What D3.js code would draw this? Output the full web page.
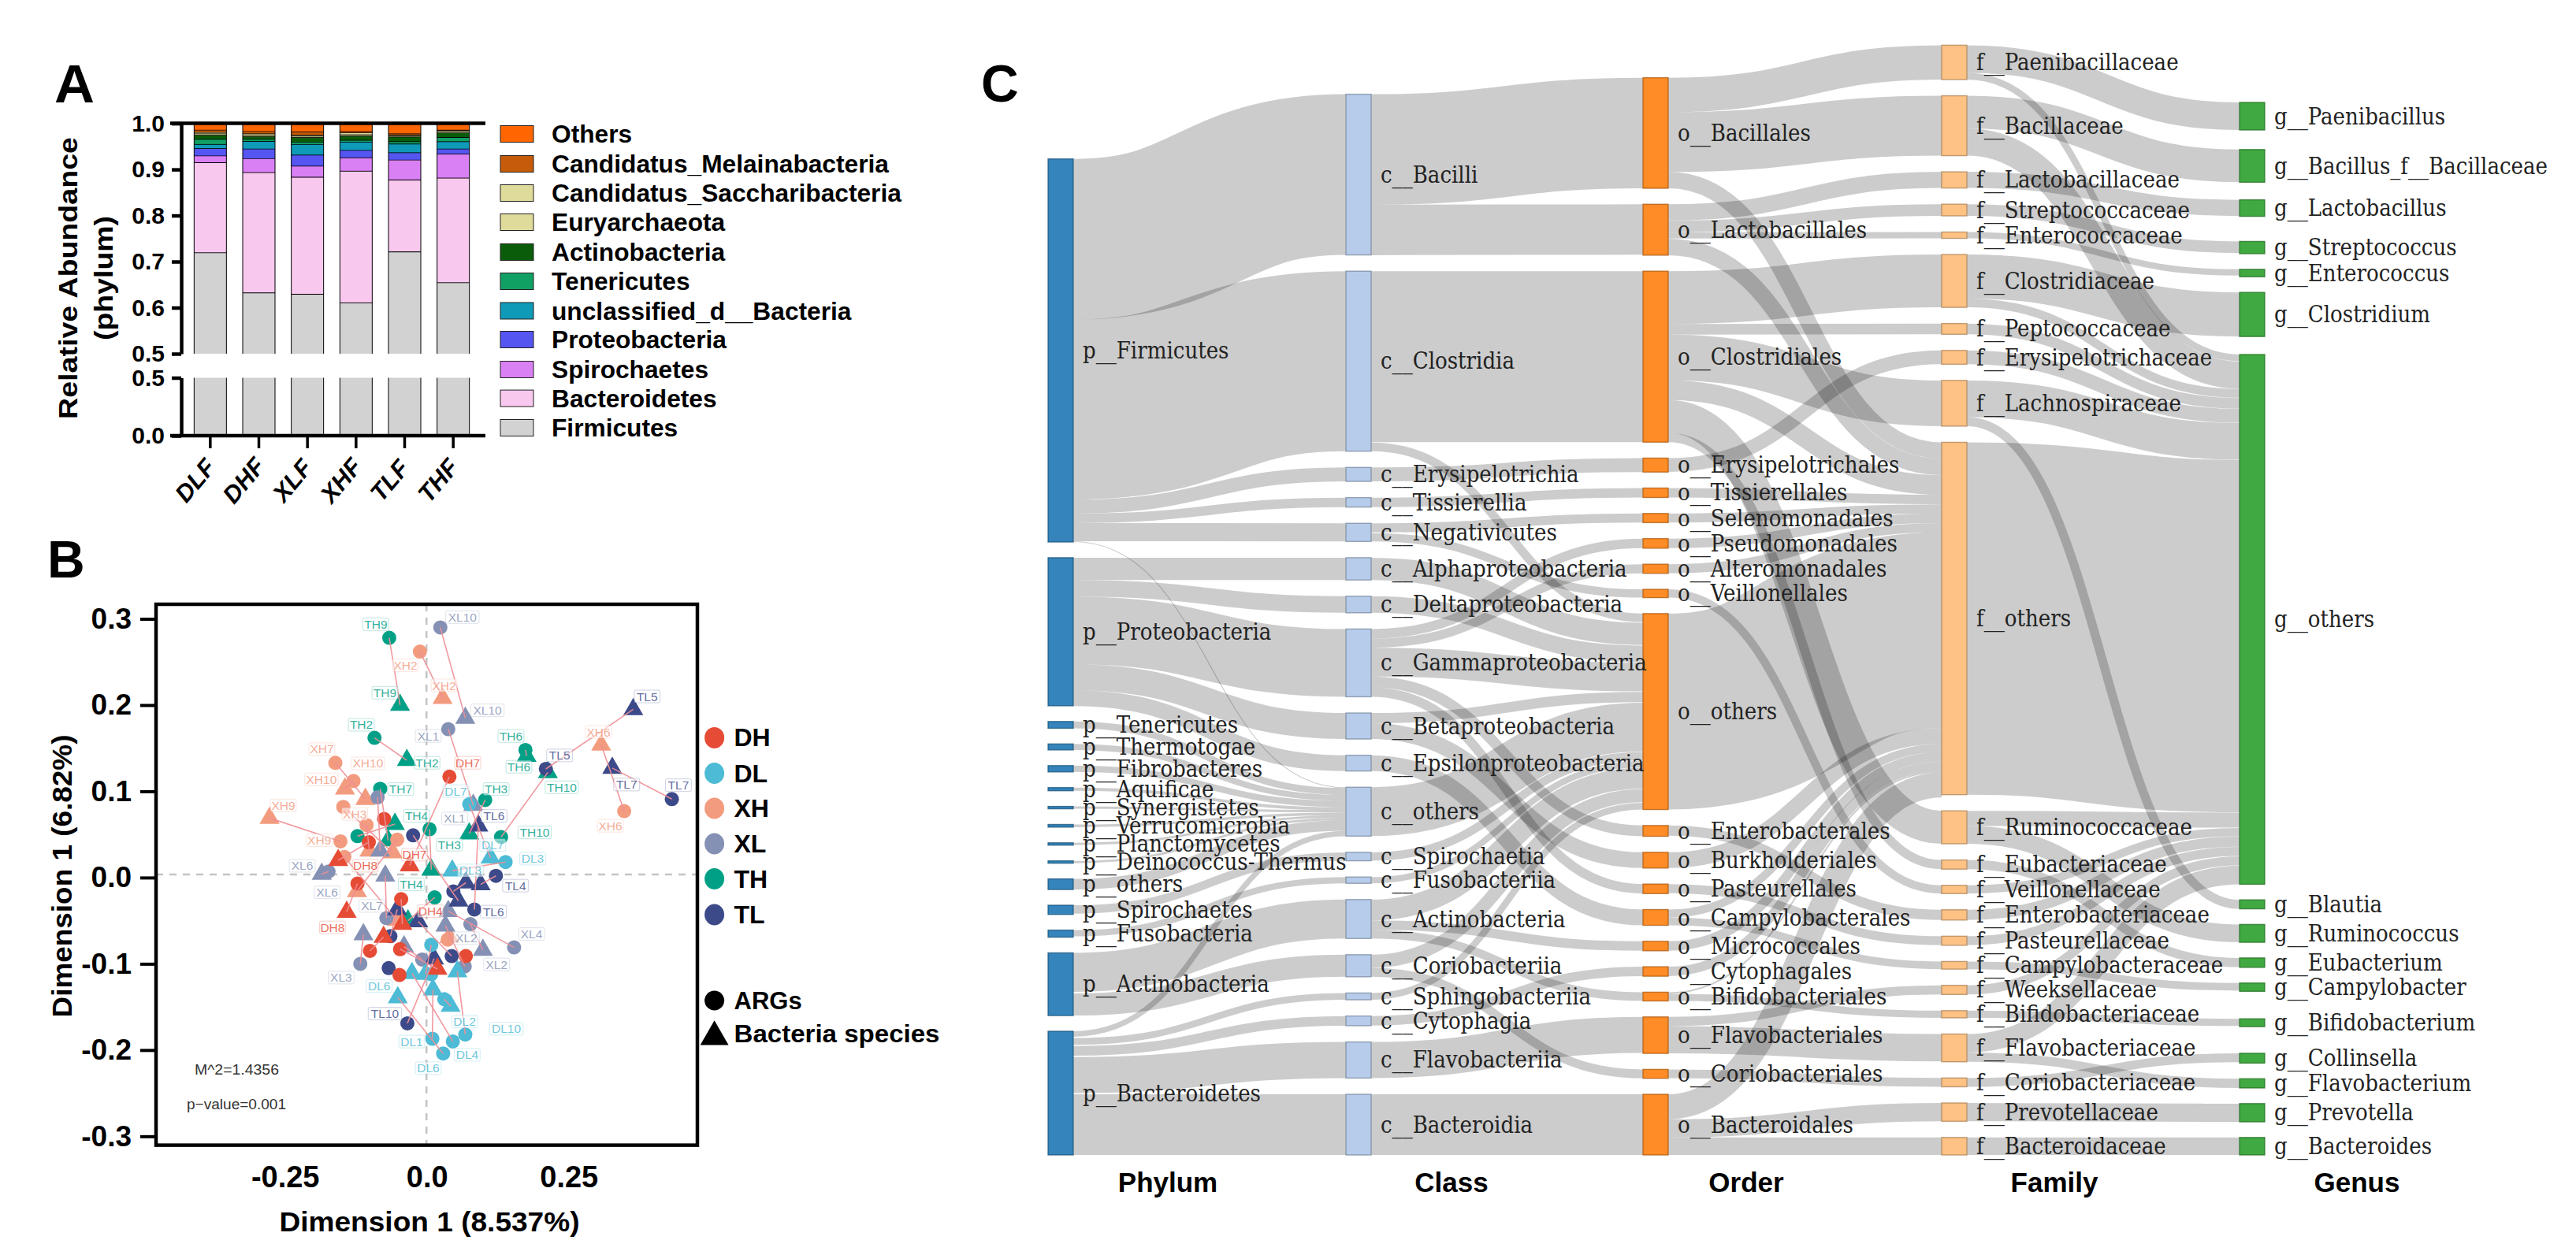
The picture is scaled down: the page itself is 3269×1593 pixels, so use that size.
<!DOCTYPE html>
<html><head><meta charset="utf-8">
<script src="https://cdn.jsdelivr.net/npm/d3@7"></script>
<style>
html,body{margin:0;padding:0;background:#fff}
svg{display:block}
text{font-family:"Liberation Sans",Arial,sans-serif}
.sk{font-family:"DejaVu Serif Condensed","DejaVu Serif",serif}
</style></head><body>
<svg id="c" width="3269" height="1593"></svg>
<script>
// ---------- Panel A data ----------
const barSamples=["DLF","DHF","XLF","XHF","TLF","THF"];
const phylaNames=["Firmicutes","Bacteroidetes","Spirochaetes","Proteobacteria","unclassified_d__Bacteria","Tenericutes","Actinobacteria","Euryarchaeota","Candidatus_Saccharibacteria","Candidatus_Melainabacteria","Others"];
const phylaColors=["#d2d2d2","#f9c8ef","#da80f5","#5555f2","#0f9ab8","#11a064","#0a5c0a","#dedb9b","#dedb9b","#c65b0a","#ff6600"];
const firmicutes=[.72,.633,.63,.611,.722,.655];
const bacteroidetes=[.1955,.261,.254,.286,.156,.227];
const spirochaetes=[.0145,.03,.024,.029,.043,.052];
const proteobacteria=[.016,.021,.024,.016,.016,.011];
const unclassifiedBacteria=[.009,.0165,.023,.018,.019,.016];
const tenericutes=[.011,.0045,.005,.004,.005,.009];
const actinobacteria=[.009,.006,.01,.009,.01,.01];
const euryarchaeota=[.003,.003,.003,.003,.002,.003];
const saccharibacteria=[.003,.003,.002,.004,.002,.002];
const melainabacteria=[.005,.005,.007,.003,.003,.001];
const otherPhyla=[.014,.017,.018,.017,.022,.014];
const barSeries=[firmicutes,bacteroidetes,spirochaetes,proteobacteria,unclassifiedBacteria,tenericutes,actinobacteria,euryarchaeota,saccharibacteria,melainabacteria,otherPhyla];
const barTicksUpper=[.5,.6,.7,.8,.9,1];
const barTicksLower=[0,.5];

// ---------- Panel B data ----------
const groupNames=["DH","DL","XH","XL","TH","TL"];
const groupColors=["#e64b35","#4dbbd5","#f39b7f","#8491b4","#00a087","#3c4a8a"];
const shapeNames=["ARGs","Bacteria species"];
const sampleNames=["TH9","TH2","TH6","TH7","TH3","TH10","TH4","TH1","TH5",
"XH2","XH7","XH10","XH3","XH9","XH6","XH1","XH4","XH5","XH8",
"XL10","XL1","XL7","XL5","XL6","XL4","XL2","XL3","XL8","XL9",
"TL5","TL7","TL6","TL4","TL10","TL1","TL2","TL3","TL8","TL9",
"DL7","DL3","DL1","DL10","DL4","DL6","DL2","DL5","DL8",
"DH7","DH1","DH2","DH8","DH4","DH5","DH6","DH3","DH9"];
const argX=[-.067,-.093,.173,-.083,.102,.130,.004,-.123,.013,
-.013,-.162,-.130,-.148,-.153,.347,-.107,-.053,-.146,.036,
.023,.037,-.0875,-.072,-.174,.153,.076,-.118,-.009,.066,
.209,.431,.083,.121,-.035,-.025,.046,-.065,.043,-.068,
.074,.138,.009,.067,.045,.028,.030,.007,.007,
.039,-.076,-.103,-.123,-.046,-.101,-.048,.068,-.049];
const argY=[.278,.162,.148,.103,.090,.047,.056,.048,-.023,
.262,.133,.112,.082,.042,.077,.061,.044,.024,-.072,
.290,.172,.093,-.047,.007,-.081,-.054,-.100,-.095,-.103,
.126,.091,-.037,.002,-.169,.049,-.016,-.068,-.091,-.105,
.085,.018,-.187,-.182,-.190,-.204,-.141,-.078,-.112,
.117,.068,.041,-.007,-.025,-.085,-.083,-.091,-.113];
const bacX=[-.048,-.036,.175,-.069,.074,.2125,.007,-.057,-.034,
.027,-.109,-.145,-.061,-.278,.3065,-.102,-.124,-.054,.039,
.067,.081,-.083,-.074,-.186,.037,.098,-.1125,-.041,.032,
.363,.326,.090,.094,.012,.055,.068,-.053,-.016,null,
.1115,.044,.010,.053,-.027,-.052,.041,-.003,null,
-.031,null,-.157,-.142,-.044,-.077,.018,null,null];
const bacY=[.200,.136,.141,.043,.051,.122,.009,.062,-.050,
.208,.091,.103,.029,.069,.154,.031,-.016,-.049,-.069,
.185,.084,.031,.002,.004,-.039,-.084,-.066,-.080,-.056,
.195,.127,.060,-.008,-.094,-.027,-.006,-.037,-.051,null,
.023,.008,-.130,-.109,-.111,-.139,-.149,-.112,null,
.014,null,.020,-.040,-.054,-.069,-.106,null,null];
const pointLabels=["TH9","XL10","XH2","TH9","XH2","XL10","TH2","XL1","TH6","XH7","XH10","TH2","DH7","TH6","XH10","TH7","DL7","TH3","XH9","XH3","TH4","XL1","TL6","XH9","TH3","DL7","TH10","DH7","DL3","XL6","DH8","DL3","XL6","TH4","TL4","XL7","DH4","TL6","DH8","XL4","XL2","XL2","XL3","DL6","TL10","DL2","DL10","DL1","DL4","DL6","TL5","XH6","TL5","TL7","TL7","TH10","XH6"];
const labelX=[-.0907,.062,-.0385,-.0746,.0296,.106,-.1162,.0018,.1476,-.1857,-.1046,-.0004,.0713,.1615,-.1865,-.0468,.0504,.1213,-.2537,-.1278,-.019,.0482,.1176,-.1903,.0389,.1153,.1893,-.0226,.1857,-.2204,-.1093,.076,-.1764,-.0282,.1556,-.0976,.0056,.1167,-.1671,.1838,.069,.1222,-.1518,-.0847,-.0746,.0657,.1393,-.0274,.0704,.0018,.3875,.3018,.2333,.3514,.4426,.2371,.3226];
const labelY=[.2938,.302,.2463,.2143,.2228,.1939,.1772,.1641,.1641,.1489,.1324,.1331,.1331,.1285,.1139,.1026,.1002,.1026,.0837,.0737,.0715,.0685,.0715,.0432,.0381,.0377,.0523,.0265,.0219,.0137,.0137,.0082,-.0171,-.0079,-.0094,-.0329,-.039,-.0395,-.0578,-.0655,-.0703,-.1007,-.116,-.1258,-.1577,-.1669,-.1753,-.1902,-.2055,-.221,.21,.1689,.1416,.1078,.1071,.1047,.06];
const ordTicksY=[.3,.2,.1,0,-.1,-.2,-.3];
const ordTicksX=[-.25,0,.25];

// ---------- Panel C data ----------
const phylumNames=["p__Firmicutes","p__Proteobacteria","p__Tenericutes","p__Thermotogae","p__Fibrobacteres","p__Aquificae","p__Synergistetes","p__Verrucomicrobia","p__Planctomycetes","p__Deinococcus-Thermus","p__others","p__Spirochaetes","p__Fusobacteria","p__Actinobacteria","p__Bacteroidetes"];
const phylumValues=[486.3,188,8.6,7.6,8,4,3,3.4,3,3,13.5,11.7,9,79.6,157];
const classNames=["c__Bacilli","c__Clostridia","c__Erysipelotrichia","c__Tissierellia","c__Negativicutes","c__Alphaproteobacteria","c__Deltaproteobacteria","c__Gammaproteobacteria","c__Betaproteobacteria","c__Epsilonproteobacteria","c__others","c__Spirochaetia","c__Fusobacteriia","c__Actinobacteria","c__Coriobacteriia","c__Sphingobacteriia","c__Cytophagia","c__Flavobacteriia","c__Bacteroidia"];
const classValues=[204,228.5,17.7,12,23,28.3,21,86,33,20,62,10.7,8,49.4,28,8.6,12.3,45.8,77];
const orderNames=["o__Bacillales","o__Lactobacillales","o__Clostridiales","o__Erysipelotrichales","o__Tissierellales","o__Selenomonadales","o__Pseudomonadales","o__Alteromonadales","o__Veillonellales","o__others","o__Enterobacterales","o__Burkholderiales","o__Pasteurellales","o__Campylobacterales","o__Micrococcales","o__Cytophagales","o__Bifidobacteriales","o__Flavobacteriales","o__Coriobacteriales","o__Bacteroidales"];
const orderValues=[140.3,64.6,217,17.7,12,11.6,12.2,11.6,10.5,248.7,13.7,20,12.1,20,12,12,11.1,46.3,11.3,77];
const familyNames=["f__Paenibacillaceae","f__Bacillaceae","f__Lactobacillaceae","f__Streptococcaceae","f__Enterococcaceae","f__Clostridiaceae","f__Peptococcaceae","f__Erysipelotrichaceae","f__Lachnospiraceae","f__others","f__Ruminococcaceae","f__Eubacteriaceae","f__Veillonellaceae","f__Enterobacteriaceae","f__Pasteurellaceae","f__Campylobacteraceae","f__Weeksellaceae","f__Bifidobacteriaceae","f__Flavobacteriaceae","f__Coriobacteriaceae","f__Prevotellaceae","f__Bacteroidaceae"];
const familyValues=[43.6,76,20.5,14.8,8,67,13.6,17.5,58,447.2,41.8,11.6,10.5,13,11.5,9.7,11.6,9.1,35.2,11.2,23.2,22.2];
const genusNames=["g__Paenibacillus","g__Bacillus_f__Bacillaceae","g__Lactobacillus","g__Streptococcus","g__Enterococcus","g__Clostridium","g__others","g__Blautia","g__Ruminococcus","g__Eubacterium","g__Campylobacter","g__Bifidobacterium","g__Collinsella","g__Flavobacterium","g__Prevotella","g__Bacteroides"];
const genusValues=[35,41.5,21,15.6,9.5,56,672.4,11.4,22.7,12,10.6,10,12.5,11.7,23.2,22.2];
const phylumToClass=[["p__Firmicutes","c__Bacilli",204],["p__Firmicutes","c__Clostridia",228.5],["p__Firmicutes","c__Erysipelotrichia",17.7],["p__Firmicutes","c__Tissierellia",12],["p__Firmicutes","c__Negativicutes",23],["p__Firmicutes","c__others",1.1],
["p__Proteobacteria","c__Alphaproteobacteria",28.3],["p__Proteobacteria","c__Deltaproteobacteria",21],["p__Proteobacteria","c__Gammaproteobacteria",86],["p__Proteobacteria","c__Betaproteobacteria",33],["p__Proteobacteria","c__Epsilonproteobacteria",20],
["p__Tenericutes","c__others",8.6],["p__Thermotogae","c__others",7.6],["p__Fibrobacteres","c__others",8],["p__Aquificae","c__others",4],["p__Synergistetes","c__others",3],["p__Verrucomicrobia","c__others",3.4],["p__Planctomycetes","c__others",3],["p__Deinococcus-Thermus","c__others",3],["p__others","c__others",13.5],
["p__Spirochaetes","c__Spirochaetia",10.7],["p__Fusobacteria","c__Fusobacteriia",8],["p__Actinobacteria","c__Actinobacteria",49.4],["p__Actinobacteria","c__Coriobacteriia",28],
["p__Bacteroidetes","c__others",7],["p__Bacteroidetes","c__Sphingobacteriia",8.6],["p__Bacteroidetes","c__Cytophagia",12.3],["p__Bacteroidetes","c__Flavobacteriia",45.8],["p__Bacteroidetes","c__Bacteroidia",77]];
const classToOrder=[["c__Bacilli","o__Bacillales",140.3],["c__Bacilli","o__Lactobacillales",64],["c__Clostridia","o__Clostridiales",217],["c__Clostridia","o__others",11],["c__Erysipelotrichia","o__Erysipelotrichales",17.7],["c__Tissierellia","o__Tissierellales",12],["c__Negativicutes","o__Selenomonadales",11.6],["c__Negativicutes","o__Veillonellales",10.5],
["c__Alphaproteobacteria","o__others",28.3],["c__Deltaproteobacteria","o__others",21],["c__Gammaproteobacteria","o__Pseudomonadales",12.2],["c__Gammaproteobacteria","o__Alteromonadales",11.6],["c__Gammaproteobacteria","o__others",36.5],["c__Gammaproteobacteria","o__Enterobacterales",13.7],["c__Gammaproteobacteria","o__Pasteurellales",12],
["c__Betaproteobacteria","o__Burkholderiales",20],["c__Betaproteobacteria","o__others",13],["c__Epsilonproteobacteria","o__Campylobacterales",20],["c__others","o__others",62],["c__Spirochaetia","o__others",10.7],["c__Fusobacteriia","o__others",8],
["c__Actinobacteria","o__Micrococcales",12],["c__Actinobacteria","o__Bifidobacteriales",11],["c__Actinobacteria","o__others",26.4],["c__Coriobacteriia","o__Coriobacteriales",11.3],["c__Coriobacteriia","o__others",16.7],["c__Sphingobacteriia","o__others",8.6],["c__Cytophagia","o__Cytophagales",12],["c__Flavobacteriia","o__Flavobacteriales",45.8],["c__Bacteroidia","o__Bacteroidales",77]];
const orderToFamily=[["o__Bacillales","f__Paenibacillaceae",43.6],["o__Bacillales","f__Bacillaceae",76],["o__Bacillales","f__others",20.7],["o__Lactobacillales","f__Lactobacillaceae",20.5],["o__Lactobacillales","f__Streptococcaceae",14.8],["o__Lactobacillales","f__Enterococcaceae",8],["o__Lactobacillales","f__others",21],
["o__Clostridiales","f__Clostridiaceae",67],["o__Clostridiales","f__Peptococcaceae",13.6],["o__Clostridiales","f__Lachnospiraceae",58],["o__Clostridiales","f__others",25],["o__Clostridiales","f__Ruminococcaceae",41.8],["o__Clostridiales","f__Eubacteriaceae",11.6],
["o__Erysipelotrichales","f__Erysipelotrichaceae",17.5],["o__Tissierellales","f__others",12],["o__Selenomonadales","f__others",11.6],["o__Pseudomonadales","f__others",12.2],["o__Alteromonadales","f__others",11.6],["o__Veillonellales","f__Veillonellaceae",10.5],["o__others","f__others",248.7],
["o__Enterobacterales","f__Enterobacteriaceae",13],["o__Burkholderiales","f__others",20],["o__Pasteurellales","f__Pasteurellaceae",11.5],["o__Campylobacterales","f__Campylobacteraceae",9.7],["o__Campylobacterales","f__others",10.3],["o__Micrococcales","f__others",12],["o__Cytophagales","f__others",12],["o__Bifidobacteriales","f__Bifidobacteriaceae",9.1],["o__Bifidobacteriales","f__others",2],
["o__Flavobacteriales","f__Flavobacteriaceae",34.7],["o__Flavobacteriales","f__Weeksellaceae",11.6],["o__Coriobacteriales","f__Coriobacteriaceae",11.2],["o__Bacteroidales","f__Prevotellaceae",23.2],["o__Bacteroidales","f__Bacteroidaceae",22.2],["o__Bacteroidales","f__others",31.6]];
const familyToGenus=[["f__Paenibacillaceae","g__Paenibacillus",35],["f__Paenibacillaceae","g__others",8.6],["f__Bacillaceae","g__Bacillus_f__Bacillaceae",41.5],["f__Bacillaceae","g__others",34.5],["f__Lactobacillaceae","g__Lactobacillus",20.5],["f__Streptococcaceae","g__Streptococcus",14.8],["f__Enterococcaceae","g__Enterococcus",8],
["f__Clostridiaceae","g__Clostridium",56],["f__Clostridiaceae","g__others",11],["f__Peptococcaceae","g__others",13.6],["f__Erysipelotrichaceae","g__others",17.5],["f__Lachnospiraceae","g__others",46.6],["f__Lachnospiraceae","g__Blautia",11.4],["f__others","g__others",447.2],
["f__Ruminococcaceae","g__Ruminococcus",22.7],["f__Ruminococcaceae","g__others",19.1],["f__Eubacteriaceae","g__Eubacterium",11.6],["f__Veillonellaceae","g__others",10.5],["f__Enterobacteriaceae","g__others",13],["f__Pasteurellaceae","g__others",11.5],["f__Campylobacteraceae","g__Campylobacter",9.7],["f__Weeksellaceae","g__others",11.6],["f__Bifidobacteriaceae","g__Bifidobacterium",9.1],
["f__Flavobacteriaceae","g__Flavobacterium",11.7],["f__Flavobacteriaceae","g__others",23.5],["f__Coriobacteriaceae","g__Collinsella",11.2],["f__Prevotellaceae","g__Prevotella",23.2],["f__Bacteroidaceae","g__Bacteroides",22.2]];
const columnTitles=["Phylum","Class","Order","Family","Genus"];

// ---------- drawing ----------
const svg=d3.select("#c");
const txt=(g,x,y,s,o={})=>{const t=g.append("text").attr("x",x).attr("y",y).text(s)
  .attr("font-size",o.size||28).attr("font-weight",o.weight||"bold").attr("fill",o.fill||"#000")
  .attr("text-anchor",o.anchor||"start").attr("dominant-baseline",o.base||"central");
  if(o.rotate!=null)t.attr("transform",`rotate(${o.rotate} ${x} ${y})`);
  if(o.style)t.attr("font-style",o.style);
  if(o.len)t.attr("textLength",o.len).attr("lengthAdjust","spacingAndGlyphs");
  return t;};
const styleAxis=(g,w,fs)=>{g.selectAll("path,line").attr("stroke","#000").attr("stroke-width",w);
  g.selectAll("text").attr("font-size",fs).attr("font-weight","bold").attr("fill","#000").attr("font-family",'"Liberation Sans",Arial,sans-serif');};

txt(svg,69,106,"A",{size:68,len:51});
txt(svg,60,710,"B",{size:66});
txt(svg,1245,106,"C",{size:66});

// Panel A
(function(){
 const g=svg.append("g");
 const x=d3.scaleBand().domain(barSamples).range([236,606]).paddingInner(.335).paddingOuter(.1675);
 const yU=d3.scaleLinear().domain([.5,1]).range([449,156.6]);
 const yL=d3.scaleLinear().domain([0,.5]).range([553,479.5]);
 const edge=(x1,x2,y1,y2,w)=>g.append("line").attr("x1",x1).attr("x2",x2).attr("y1",y1).attr("y2",y2).attr("stroke","#000").attr("stroke-width",w);
 barSamples.forEach((s,i)=>{
  const bx=x(s),bw=x.bandwidth();
  let cum=0;
  barSeries.forEach((ser,j)=>{
   const v0=cum,v1=cum+ser[i];cum=v1;
   const lo=j===0?.5:v0;
   g.append("rect").attr("x",bx).attr("width",bw).attr("y",yU(v1)).attr("height",yU(lo)-yU(v1)).attr("fill",phylaColors[j]);
   if(j===0)g.append("rect").attr("x",bx).attr("width",bw).attr("y",yL(.5)).attr("height",yL(0)-yL(.5)).attr("fill",phylaColors[0]);
   edge(bx,bx+bw,yU(v1),yU(v1),j<2?2:1.6);
  });
  [bx,bx+bw].forEach(e=>{edge(e,e,yU(1),yU(.5),1);edge(e,e,yL(.5),yL(0),1);});
 });
 const fmt=d3.format(".1f");
 const ax=g.append("g").attr("transform","translate(230,0)").call(d3.axisLeft(yU).tickValues(barTicksUpper).tickFormat(fmt).tickSize(12).tickPadding(9).tickSizeOuter(0));
 styleAxis(ax,4.5,30);
 const ax2=g.append("g").attr("transform","translate(230,0)").call(d3.axisLeft(yL).tickValues(barTicksLower).tickFormat(fmt).tickSize(12).tickPadding(9).tickSizeOuter(0));
 styleAxis(ax2,4.5,30);
 edge(216,616,yU(1),yU(1),4.5);
 const xa=g.append("g").attr("transform","translate(0,553)").call(d3.axisBottom(x).tickSize(16).tickSizeOuter(0));
 styleAxis(xa,3.5,31);
 xa.select("path.domain").remove();
 edge(216,616,553,553,4.5);
 xa.selectAll("text").attr("text-anchor","middle").attr("font-style","italic").attr("dy",0).attr("x",0).attr("y",0).attr("dominant-baseline","central").attr("transform","translate(-19,57) rotate(-50)");
 txt(g,86,353,"Relative Abundance",{size:34,anchor:"middle",rotate:-90,len:358});
 txt(g,131,353,"(phylum)",{size:34,anchor:"middle",rotate:-90,len:158});
 const ly=[543,505.6,469,431,394.5,357,320,282,245,208,170];
 phylaNames.forEach((n,i)=>{
  g.append("rect").attr("x",635).attr("width",42).attr("y",ly[i]-10.5).attr("height",21).attr("fill",phylaColors[i]).attr("stroke","#222").attr("stroke-width",1);
  txt(g,700,ly[i],n,{size:31.7});
 });
})();

// Panel B
(function(){
 const g=svg.append("g");
 const x=d3.scaleLinear().domain([-.478,.476]).range([198,885]);
 const y=d3.scaleLinear().domain([.3169,-.3103]).range([767,1453.6]);
 const col=d3.scaleOrdinal().domain(groupNames).range(groupColors);
 const grp=s=>s.slice(0,2);
 g.append("line").attr("x1",x.range()[0]).attr("x2",x.range()[1]).attr("y1",y(0)-4).attr("y2",y(0)-4).attr("stroke","#c4c4c4").attr("stroke-width",2.5).attr("stroke-dasharray","9 8");
 g.append("line").attr("x1",x(0)-1).attr("x2",x(0)-1).attr("y1",767).attr("y2",1453).attr("stroke","#c4c4c4").attr("stroke-width",2.5).attr("stroke-dasharray","9 8");
 const tri=d3.symbol().type(d3.symbolTriangle).size(280);
 sampleNames.forEach((s,i)=>{
  g.append("circle").attr("cx",x(argX[i])).attr("cy",y(argY[i])).attr("r",9).attr("fill",col(grp(s)));
  if(bacX[i]!=null)g.append("path").attr("d",tri).attr("transform",`translate(${x(bacX[i])},${y(bacY[i])})`).attr("fill",col(grp(s)));
 });
 sampleNames.forEach((s,i)=>{
  if(bacX[i]!=null)g.append("line").attr("x1",x(argX[i])).attr("y1",y(argY[i])).attr("x2",x(bacX[i])).attr("y2",y(bacY[i])).attr("stroke","#f08f96").attr("stroke-width",1.6).attr("opacity",.9);
 });
 pointLabels.forEach((s,i)=>{
  const c=col(grp(s)),cx=x(labelX[i]),cy=y(labelY[i]),w=s.length*9.6+4,h=16;
  g.append("rect").attr("x",cx-w/2).attr("y",cy-h/2).attr("width",w).attr("height",h).attr("rx",2).attr("fill","#fff").attr("fill-opacity",.55).attr("stroke",c).attr("stroke-opacity",.25).attr("stroke-width",1);
  txt(g,cx,cy,s,{size:15.5,weight:"normal",anchor:"middle",fill:c}).attr("opacity",.8);
 });
 const ya=g.append("g").attr("transform","translate(198,0)").call(d3.axisLeft(y).tickValues(ordTicksY).tickFormat(d3.format(".1f")).tickSize(20).tickPadding(11).tickSizeOuter(0));
 styleAxis(ya,4,37);
 ya.select(".domain").remove();
 ya.selectAll("text").text(d=>d3.format(".1f")(d).replace("\u2212","-"));
 g.selectAll("x").data(ordTicksX).join("text").attr("x",d=>x(d)).attr("y",1494).attr("text-anchor","middle").attr("dominant-baseline","central")
  .attr("font-size",38).attr("font-weight","bold").text(d=>d===0?"0.0":d3.format(".2f")(d).replace("\u2212","-"));
 g.append("rect").attr("x",198).attr("y",767).attr("width",687).attr("height",686.6).attr("fill","none").attr("stroke","#000").attr("stroke-width",4.5);
 txt(g,78,1112,"Dimension 1 (6.82%)",{size:35,anchor:"middle",rotate:-90,len:359});
 txt(g,545,1550,"Dimension 1 (8.537%)",{size:35,anchor:"middle",len:381});
 txt(g,247,1357,"M^2=1.4356",{size:19,weight:"normal",fill:"#333",len:107});
 txt(g,237,1401,"p\u2212value=0.001",{size:19,weight:"normal",fill:"#333",len:126});
 const ly=[936.4,981.5,1026,1071,1115.5,1161];
 groupNames.forEach((n,i)=>{
  g.append("ellipse").attr("cx",906.6).attr("cy",ly[i]).attr("rx",12.5).attr("ry",13.5).attr("fill",groupColors[i]);
  txt(g,931.5,ly[i],n,{size:32});
 });
 g.append("circle").attr("cx",906.6).attr("cy",1270).attr("r",12.5).attr("fill","#000");
 txt(g,931.5,1270,shapeNames[0],{size:31});
 g.append("path").attr("d",d3.symbol().type(d3.symbolTriangle).size(560)).attr("transform","translate(906.6,1316)").attr("fill","#000");
 txt(g,931.5,1312,shapeNames[1],{size:31,len:261});
})();

// Panel C
(function(){
 const g=svg.append("g");
 const bottom=1466, nodeW=32;
 const columnTop=[201.7,119.6,98.7,57.4,130];
 const k=d3.scaleLinear().domain([0,1000]).range([0,1000]);
 const colX=[1330,1708,2085,2464,2842];
 const colColors=["#1f77b4","#aec7e8","#ff7f0e","#ffbb78","#2ca02c"];
 const cols=[[phylumNames,phylumValues],[classNames,classValues],[orderNames,orderValues],[familyNames,familyValues],[genusNames,genusValues]];
 // wider gaps where the layout of the genus column leaves them open
 const extraGapAbove={"g__Bacillus_f__Bacillaceae":5,"g__Lactobacillus":2.5,"g__Streptococcus":12,"g__others":3,"g__Bifidobacterium":15,"g__Collinsella":14};
 const nodes=new Map();
 cols.forEach(([names,vals],c)=>{
  const extras=d3.sum(names,n=>extraGapAbove[n]||0);
  const gap=(bottom-columnTop[c]-d3.sum(vals,k)-extras)/(names.length-1);
  let yb=bottom;
  for(let i=names.length-1;i>=0;i--){
   const h=k(vals[i]);
   nodes.set(names[i],{name:names[i],c,x0:colX[c],x1:colX[c]+nodeW,y0:yb-h,y1:yb,h,out:[],inn:[]});
   yb-=h+gap+(extraGapAbove[names[i]]||0);
  }
 });
 const links=[phylumToClass,classToOrder,orderToFamily,familyToGenus].flat().map(([s,t,v])=>{
  const l={s:nodes.get(s),t:nodes.get(t),w:k(v)};l.s.out.push(l);l.t.inn.push(l);return l;});
 nodes.forEach(n=>{
  n.out.sort((a,b)=>a.t.y0-b.t.y0);n.inn.sort((a,b)=>a.s.y0-b.s.y0);
  const place=(arr,key)=>{const sum=d3.sum(arr,d=>d.w);const extra=arr.length>1?Math.max(0,n.h-sum)/(arr.length-1):0;let y=n.y0;
   arr.forEach(l=>{l[key]=y+l.w/2;y+=l.w+extra;});};
  place(n.out,"ys");place(n.inn,"yt");
 });
 const lk=d3.linkHorizontal().source(d=>[d.s.x1,d.ys]).target(d=>[d.t.x0,d.yt]);
 g.append("g").selectAll("path").data(links).join("path").attr("d",lk).attr("fill","none").attr("stroke","#000").attr("stroke-opacity",.2).attr("stroke-width",d=>d.w);
 const nd=[...nodes.values()];
 g.append("g").selectAll("rect").data(nd).join("rect").attr("x",d=>d.x0).attr("y",d=>d.y0).attr("width",nodeW).attr("height",d=>d.h)
  .attr("fill",d=>colColors[d.c]).attr("fill-opacity",.9).attr("stroke",d=>d3.rgb(colColors[d.c]).darker(1.2)).attr("stroke-opacity",.7).attr("stroke-width",1.4);
 g.append("g").selectAll("text").data(nd).join("text").attr("class","sk").attr("x",d=>d.x1+12).attr("y",d=>(d.y0+d.y1)/2).attr("dominant-baseline","central")
  .attr("font-size",29).attr("fill","#222").text(d=>d.name);
 const tx=[1482,1842,2216,2607,2991];
 columnTitles.forEach((t,i)=>txt(g,tx[i],1500,t,{size:35,anchor:"middle"}));
})();
</script>
</body></html>
